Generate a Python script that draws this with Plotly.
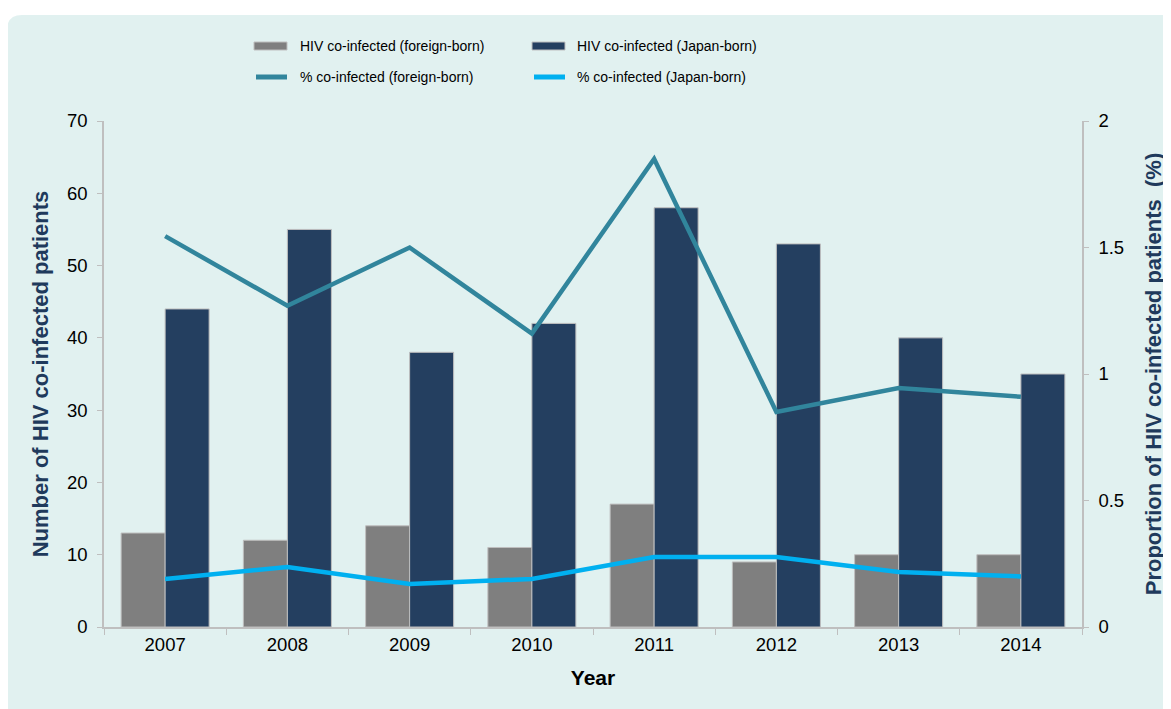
import plotly.graph_objects as go

years = ["2007", "2008", "2009", "2010", "2011", "2012", "2013", "2014"]
hiv_foreign = [13, 12, 14, 11, 17, 9, 10, 10]
hiv_japan = [44, 55, 38, 42, 58, 53, 40, 35]
pct_foreign = [1.545, 1.27, 1.50, 1.16, 1.85, 0.85, 0.945, 0.91]
pct_japan = [0.19, 0.237, 0.17, 0.19, 0.277, 0.277, 0.217, 0.20]

names = ["HIV co-infected (foreign-born)", "HIV co-infected (Japan-born)",
         "% co-infected (foreign-born)", "% co-infected (Japan-born)"]

C_GREY = "#7f7f7f"
C_NAVY = "#243f60"
C_TEAL = "#31859c"
C_CYAN = "#00b0f0"
C_BG = "#e1f1f0"
C_AXIS = "#bfbfbf"
C_TITLE = "#1f3a5c"

W, H = 1171, 709
OFF = 8  # page body margin
# plot area in figure pixels
L, R, T, B = 104 - OFF, 1082 - OFF, 121 - OFF, 627 - OFF


def X(px):  # screen px -> paper
    return (px - OFF - L) / (R - L)


def Y(py):
    return (B - (py - OFF)) / (B - T)


fig = go.Figure()
fig.add_trace(go.Bar(x=years, y=hiv_foreign, name=names[0], marker_color=C_GREY,
                     marker_line=dict(color=C_AXIS, width=1), showlegend=False))
fig.add_trace(go.Bar(x=years, y=hiv_japan, name=names[1], marker_color=C_NAVY,
                     marker_line=dict(color=C_AXIS, width=1), showlegend=False))
fig.add_trace(go.Scatter(x=years, y=pct_foreign, name=names[2], mode="lines",
                         line=dict(color=C_TEAL, width=4.5), yaxis="y2", showlegend=False))
fig.add_trace(go.Scatter(x=years, y=pct_japan, name=names[3], mode="lines",
                         line=dict(color=C_CYAN, width=4.5), yaxis="y2", showlegend=False))

shapes = []
# rounded background panel (screen px)
r = 15
x0, y0, x1, y1 = 7, 15, W + 40, H + 40
path = (f"M {X(x0)},{Y(y1)} L {X(x0)},{Y(y0 + r)} "
        f"Q {X(x0)},{Y(y0)} {X(x0 + r)},{Y(y0)} "
        f"L {X(x1)},{Y(y0)} L {X(x1)},{Y(y1)} Z")
shapes.append(dict(type="path", xref="paper", yref="paper", path=path,
                   fillcolor=C_BG, line=dict(width=0), layer="below"))

# manual legend (screen px positions)
leg_font = dict(family="Liberation Sans, Arial", size=14, color="#000000")
annotations = []
cols = [(254, 298), (532, 575)]
rows = [46, 77]
items = [(0, 0, "bar", C_GREY), (0, 1, "bar", C_NAVY), (1, 0, "line", C_TEAL), (1, 1, "line", C_CYAN)]
for (ri, ci, kind, col), nm in zip(items, names):
    sx, tx = cols[ci]
    cy = rows[ri]
    if kind == "bar":
        shapes.append(dict(type="rect", xref="paper", yref="paper",
                           x0=X(sx), x1=X(sx + 33), y0=Y(cy + 4), y1=Y(cy - 4),
                           fillcolor=col, line=dict(color=C_AXIS, width=1)))
    else:
        shapes.append(dict(type="line", xref="paper", yref="paper",
                           x0=X(sx + 2), x1=X(sx + 33), y0=Y(cy), y1=Y(cy),
                           line=dict(color=col, width=5)))
    annotations.append(dict(text=nm, xref="paper", yref="paper", x=X(tx), y=Y(cy),
                            xanchor="left", yanchor="middle", showarrow=False, font=leg_font))

tick_font = dict(family="Liberation Sans, Arial", size=18.5, color="#000000")
title_font = dict(family="Liberation Sans, Arial", size=22, color=C_TITLE)

fig.update_layout(
    width=W, height=H,
    margin=dict(l=L, r=W - R, t=T, b=H - B, autoexpand=False),
    paper_bgcolor="white", plot_bgcolor="rgba(0,0,0,0)",
    barmode="group", bargap=0.28, bargroupgap=0,
    shapes=shapes, annotations=annotations,
    xaxis=dict(type="category", showline=True, linecolor=C_AXIS, linewidth=1.5,
               ticks="outside", tickson="boundaries", ticklen=6, tickcolor=C_AXIS,
               tickfont=tick_font, showgrid=False, zeroline=False,
               title=dict(text="<b>Year</b>", font=dict(family="Liberation Sans, Arial", size=21, color="#000000"),
                          standoff=16)),
    yaxis=dict(range=[0, 70], dtick=10, showline=True, linecolor=C_AXIS, linewidth=1.5,
               ticks="outside", ticklen=5, tickcolor=C_AXIS, tickfont=tick_font,
               showgrid=False, zeroline=False, ticklabelstandoff=6,
               title=dict(text="<b>Number of HIV co-infected patients</b>", font=title_font, standoff=12)),
    yaxis2=dict(range=[0, 2], dtick=0.5, overlaying="y", side="right", showline=True,
                linecolor=C_AXIS, linewidth=1.5, ticks="outside", ticklen=5, tickcolor=C_AXIS,
                tickfont=tick_font, showgrid=False, zeroline=False, ticklabelstandoff=6,
                title=dict(text="<b>Proportion of HIV co-infected patients  (%)</b>", font=title_font,
                           standoff=22)),
)

fig.write_html("out.html")
